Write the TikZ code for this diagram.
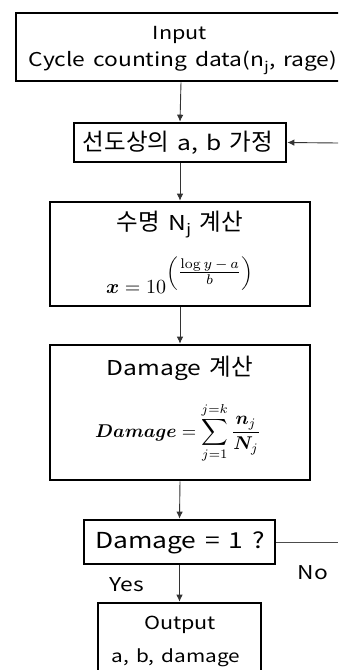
\documentclass[tikz,border=0pt]{standalone}
\usepackage{amsmath}
\usepackage{bm}
\usepackage{graphicx}
\usepackage[no-math]{fontspec}
\setmainfont{Noto Sans CJK KR}[FakeStretch=1.2, WordSpace=1.5]
\newfontfamily\kr{Noto Sans CJK KR}
\newcommand{\hk}[1]{{\kr\fontsize{23.5}{26}\selectfont #1}}
\usetikzlibrary{arrows.meta}
\begin{document}
\begin{tikzpicture}[x=1pt,y=-1pt,
  box/.style 2 args={draw=black, line width=2.6pt, minimum width=#1, minimum height=#2, inner sep=0pt},
  arr/.style={draw=black!80, line width=0.9pt, -{Latex[length=7pt,width=6.5pt]}},
  ln/.style={draw=black!70, line width=0.9pt},
  t17/.style={inner sep=0pt, font=\fontsize{17.3}{19}\selectfont},
  t18/.style={inner sep=0pt, font=\fontsize{18}{20}\selectfont},
  t19/.style={inner sep=0pt, font=\fontsize{19}{21}\selectfont},
  t20/.style={inner sep=0pt, font=\fontsize{20.5}{23}\selectfont},
  t22/.style={inner sep=0pt, font=\fontsize{22}{25}\selectfont},
  frm/.style={inner sep=0pt}]
\useasboundingbox (0,0) rectangle (338,670);
\clip (0,0) rectangle (338,670);
% boxes
\node[box={330pt}{68pt}] (input) at (181,47) {};
\node[box={212pt}{39pt}] (assume) at (180,142.5) {};
\node[box={260pt}{104pt}] (life) at (180,254) {};
\node[box={260pt}{135pt}] (damage) at (180,412.5) {};
\node[box={191pt}{44pt}] (dec) at (179.5,542) {};
\node[box={163pt}{80pt}] (output) at (179.5,643) {};
% texts
\node[t18] (inT) at (180,35) {Input};
\node[t19] (inS) at (183,63) {Cycle counting data(n\textsubscript{j}, rage)};
\node[t20] (asT) at (178,143) {\hk{선도상의} a, b \hk{가정}};
\node[t20] (lfT) at (180,225) {\hk{수명} N\textsubscript{j} \hk{계산}};
\node[frm, anchor=base west] (lfF) at (106,293) {\scalebox{2.0}{$\bm{x} = 10^{\left({\textstyle\frac{\log y\,-\,a}{b}}\right)}$}};
\node[t20] (dmT) at (180,368) {Damage \hk{계산}};
\node[frm, anchor=base west] (dmF) at (95,437) {\scalebox{1.85}{$\displaystyle \bm{Damage} = \sum_{j=1}^{j=k}\frac{\bm{n}_j}{\bm{N}_j}$}};
\node[t22] (decT) at (180,543) {Damage = 1 ?};
\node[t19] (yes) at (127,585) {Yes};
\node[t19] (no) at (313,573) {No};
\node[t18] (ouT) at (180,625) {Output};
\node[t17] (ouS) at (176,658) {a, b, damage};
% connectors
\coordinate (fb) at (338,143);
\coordinate (noEnd) at (338,542);
\draw[arr] (input.south) -- (assume.north);
\draw[arr] (assume.south) -- (life.north);
\draw[arr] (life.south) -- (damage.north);
\draw[arr] (damage.south) -- (dec.north);
\draw[arr] (dec.south) -- (output.north);
\draw[arr] (fb) -- (assume.east);
\draw[ln] (dec.east) -- (noEnd);
\end{tikzpicture}
\end{document}
